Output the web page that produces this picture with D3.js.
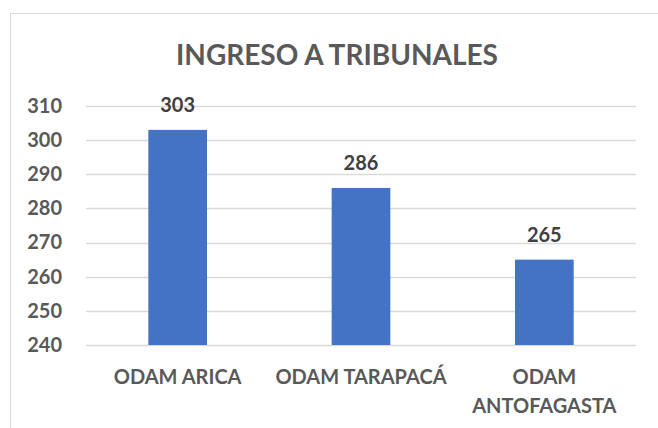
<!DOCTYPE html>
<html>
<head>
<meta charset="utf-8">
<script src="https://cdn.jsdelivr.net/npm/d3@7"></script>
<style>
  body { margin: 0; background: #fff; }
  text { font-family: Lato, "Open Sans", sans-serif; font-weight: bold; }
</style>
</head>
<body>
<svg id="chart"></svg>
<script>
const categories = ["ODAM ARICA", "ODAM TARAPACÁ", "ODAM ANTOFAGASTA"];
const categoryLines = [["ODAM ARICA"], ["ODAM TARAPACÁ"], ["ODAM", "ANTOFAGASTA"]];
const values = [303, 286, 265];
const yTicks = [240, 250, 260, 270, 280, 290, 300, 310];

const width = 658, height = 428;
const margin = {left: 86, right: 22, top: 106, bottom: 83};

const svg = d3.select("#chart")
    .attr("width", width)
    .attr("height", height);

// chart frame
svg.append("rect")
    .attr("x", 10.5).attr("y", 13.5)
    .attr("width", 700).attr("height", 500)
    .attr("fill", "#fff")
    .attr("stroke", "#d9d9d9");

const x = d3.scaleBand()
    .domain(categories)
    .range([margin.left, width - margin.right])
    .paddingInner(0.68)
    .paddingOuter(0.34);

const y = d3.scaleLinear()
    .domain([240, 310])
    .range([height - margin.bottom, margin.top]);

// gridlines
svg.append("g")
    .selectAll("line")
    .data(yTicks)
    .join("line")
    .attr("x1", margin.left)
    .attr("x2", width - margin.right)
    .attr("y1", d => Math.round(y(d)) + 0.5)
    .attr("y2", d => Math.round(y(d)) + 0.5)
    .attr("stroke", "#d9d9d9")
    .attr("stroke-width", 1.5);

// y axis labels
const yAxis = svg.append("g")
    .attr("transform", `translate(${margin.left - 10},0)`)
    .call(d3.axisLeft(y).tickValues(yTicks).tickSize(0).tickPadding(14));
yAxis.select(".domain").remove();
yAxis.selectAll("text")
    .attr("fill", "#595959")
    .style("font-size", "20px")
    .style("font-family", "Lato, sans-serif");

// bars
svg.append("g")
    .selectAll("rect")
    .data(values)
    .join("rect")
    .attr("x", (d, i) => x(categories[i]))
    .attr("width", x.bandwidth())
    .attr("y", d => y(d))
    .attr("height", d => y(240) - y(d))
    .attr("fill", "#4472c4");

// value labels
svg.append("g")
    .selectAll("text")
    .data(values)
    .join("text")
    .attr("x", (d, i) => x(categories[i]) + x.bandwidth() / 2)
    .attr("y", d => y(d) - 18)
    .attr("text-anchor", "middle")
    .attr("fill", "#404040")
    .style("font-size", "20px")
    .text(d => d);

// category labels
const cat = svg.append("g")
    .selectAll("text")
    .data(categories)
    .join("text")
    .attr("x", d => x(d) + x.bandwidth() / 2)
    .attr("y", 384)
    .attr("text-anchor", "middle")
    .attr("fill", "#595959")
    .style("font-size", "20px");
cat.selectAll("tspan")
    .data((d, i) => categoryLines[i])
    .join("tspan")
    .attr("x", function() { return this.parentNode.getAttribute("x"); })
    .attr("dy", (d, i) => i === 0 ? 0 : 29)
    .text(d => d);

// title
svg.append("text")
    .attr("x", 337)
    .attr("y", 65)
    .attr("text-anchor", "middle")
    .attr("fill", "#595959")
    .style("font-size", "28px")
    .text("INGRESO A TRIBUNALES");
</script>
</body>
</html>
